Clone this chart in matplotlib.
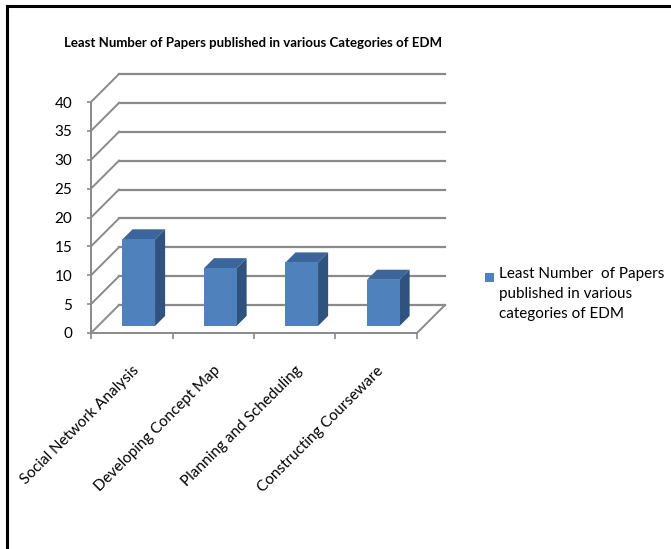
import numpy as np
import matplotlib.pyplot as plt
from matplotlib.patches import Polygon, Rectangle
from matplotlib.lines import Line2D

plt.rcParams['font.family'] = ['Lato', 'DejaVu Sans']

categories = ['Social Network Analysis', 'Developing Concept Map',
              'Planning and Scheduling', 'Constructing Courseware']
values = [15, 10, 11, 8]
yticks = [0, 5, 10, 15, 20, 25, 30, 35, 40]
title = 'Least Number of Papers published in various Categories of EDM'
legend_label = 'Least Number  of Papers\npublished in various\ncategories of EDM'

# pixel geometry of the fake 3d box
W, H = 671, 549
px_cat = 81.5      # px per category
px_val = 5.775     # px per value unit
depth_px = 28
dx = depth_px / px_cat
dy = depth_px / px_val

front_c = '#4f81bd'
top_c = '#3c659b'
side_c = '#30527f'
grid_c = '#8a8a8a'

fig = plt.figure(figsize=(W / 100, H / 100), dpi=100)

xmax = len(categories) + dx + 0.05
ymax = max(yticks) + dy + 0.6
ax_l, ax_b = 91, 333
ax = fig.add_axes([ax_l / W, (H - ax_b) / H, xmax * px_cat / W, ymax * px_val / H])
ax.set_xlim(0, xmax)
ax.set_ylim(0, ymax)
ax.patch.set_alpha(0)

n = len(categories)

# walls: diagonals on the left + back gridlines
for v in yticks:
    ax.plot([0, dx], [v, v + dy], color=grid_c, lw=1.4, zorder=1)
    ax.plot([dx, n + dx], [v + dy, v + dy], color=grid_c, lw=1.6, zorder=1)
# floor right edge
ax.plot([n, n + dx], [0, dy], color=grid_c, lw=1.4, zorder=1)

# bars
w = 0.4
f0, f1 = 0.25, 0.61
for i, v in enumerate(values):
    x0 = i + 0.5 - w / 2 + f0 * dx
    y0 = f0 * dy
    ddx = (f1 - f0) * dx
    ddy = (f1 - f0) * dy
    ax.add_patch(Polygon([[x0 + w, y0], [x0 + w + ddx, y0 + ddy],
                          [x0 + w + ddx, y0 + v + ddy], [x0 + w, y0 + v]],
                         closed=True, fc=side_c, ec='none', zorder=3))
    ax.add_patch(Polygon([[x0, y0 + v], [x0 + w, y0 + v],
                          [x0 + w + ddx, y0 + v + ddy], [x0 + ddx, y0 + v + ddy]],
                         closed=True, fc=top_c, ec='none', zorder=3))
    ax.add_patch(Rectangle((x0, y0), w, v, fc=front_c, ec='none', zorder=4))

# axes
for s in ['top', 'right']:
    ax.spines[s].set_visible(False)
ax.spines['left'].set_bounds(0, max(yticks))
ax.spines['bottom'].set_bounds(0, n)
for s in ['left', 'bottom']:
    ax.spines[s].set_color(grid_c)
    ax.spines[s].set_linewidth(1.4)

ax.set_yticks(yticks)
ax.set_yticklabels([str(t) for t in yticks])
ax.tick_params(axis='y', length=3, width=1.2, color=grid_c, pad=10.5, labelsize=11)

ax.set_xticks(np.arange(n + 1))
ax.set_xticklabels([''] * (n + 1))
ax.tick_params(axis='x', which='major', length=4, width=1.2, color=grid_c)
ax.set_xticks(np.arange(n) + 0.5, minor=True)
ax.set_xticklabels(categories, minor=True, rotation=45, ha='right', va='top',
                   rotation_mode='anchor', fontsize=11)
ax.tick_params(axis='x', which='minor', length=0, pad=22)

# title
fig.text(253 / W, 1 - 43 / H, title, ha='center', va='center',
         fontsize=9.5, fontweight='bold')

# legend drawn by hand so the swatch sits beside the first line
fig.patches.append(Rectangle((485 / W, 1 - 282 / H), 9 / W, 9 / H,
                             transform=fig.transFigure, fc=front_c, ec='none'))
fig.text(499 / W, 1 - 267 / H, legend_label, ha='left', va='top',
         fontsize=11, linespacing=1.55)

# frame lines at top and left
fig.add_artist(Line2D([7 / W, 1], [1 - 6 / H, 1 - 6 / H], color='black', lw=2.2,
                      transform=fig.transFigure))
fig.add_artist(Line2D([7 / W, 7 / W], [0, 1 - 6 / H], color='black', lw=2.2,
                      transform=fig.transFigure))

fig.savefig('out.png', dpi=100)
